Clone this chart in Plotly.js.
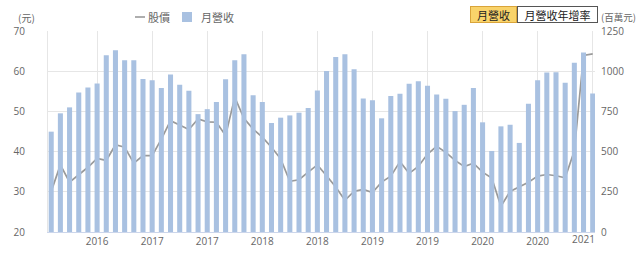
<!DOCTYPE html>
<html>
<head>
<meta charset="utf-8">
<script src="https://cdn.plot.ly/plotly-3.0.1.min.js"></script>
<style>
html,body{margin:0;padding:0;background:#fff;}
#chart{width:640px;height:261px;}
</style>
</head>
<body>
<div id="chart"></div>
<script>
// ---- data ----
const months = [
 "2016/02","2016/03","2016/04","2016/05","2016/06","2016/07","2016/08","2016/09","2016/10","2016/11","2016/12",
 "2017/01","2017/02","2017/03","2017/04","2017/05","2017/06","2017/07","2017/08","2017/09","2017/10","2017/11","2017/12",
 "2018/01","2018/02","2018/03","2018/04","2018/05","2018/06","2018/07","2018/08","2018/09","2018/10","2018/11","2018/12",
 "2019/01","2019/02","2019/03","2019/04","2019/05","2019/06","2019/07","2019/08","2019/09","2019/10","2019/11","2019/12",
 "2020/01","2020/02","2020/03","2020/04","2020/05","2020/06","2020/07","2020/08","2020/09","2020/10","2020/11","2020/12",
 "2021/01"
];
const revenue = [
 624,738,775,868,899,924,1099,1130,1068,1068,952,
 944,895,979,915,878,733,764,808,950,1068,1105,851,
 808,678,711,725,742,771,880,1002,1089,1105,1012,831,
 820,707,845,860,922,937,909,855,829,752,791,895,
 682,504,657,667,554,798,944,992,994,928,1052,1116,
 862
];
const price = [
 30.1,36.7,32.4,34.2,36.1,38.3,37.8,41.7,41.1,37.1,39.0,
 39.0,43.1,47.7,46.6,45.5,48.1,47.4,47.3,44.0,53.5,48.3,45.6,
 43.6,41.1,38.2,32.6,33.0,34.9,36.7,34.0,31.2,27.9,30.1,30.6,
 29.8,32.4,33.9,37.5,34.6,36.3,39.4,41.3,39.8,37.8,36.3,37.1,
 34.9,33.4,26.4,30.1,31.2,32.4,33.9,34.3,34.0,33.5,40.2,63.9,
 64.3
];
const tickMonths = ["2016/07","2017/01","2017/07","2018/01","2018/07","2019/01","2019/07","2020/01","2020/07","2021/01"];
const tickText   = ["2016","2017","2017","2018","2018","2019","2019","2020","2020","2021"];
const priceName = "股價";
const revName = "月營收";

// ---- layout helpers ----
const W = 640, H = 261;
const M = {l:48, r:45, t:31, b:29};
const pw = W - M.l - M.r, ph = H - M.t - M.b;
const px = x => (x - M.l) / pw;
const py = y => (H - M.b - y) / ph;

const FONT = '"Open Sans", "Noto Sans CJK TC", sans-serif';
const CJK = '"Noto Sans CJK TC", "Open Sans", sans-serif';

// the last tick label is drawn pushed left to stay inside the plot (as in the reference)
const lastIdx = tickText.length - 1;
const tickLabels = tickText.map((t, i) => i === lastIdx ? '' : t);

const traces = [
  {
    type: 'bar', name: revName, x: months, y: revenue, yaxis: 'y2',
    marker: {color: '#a9c1e1'}, hoverinfo: 'x+y'
  },
  {
    type: 'scatter', mode: 'lines', name: priceName, x: months, y: price, yaxis: 'y',
    line: {color: '#9a9a9a', width: 1.7}, hoverinfo: 'x+y'
  }
];

const layout = {
  width: W, height: H,
  margin: M,
  paper_bgcolor: '#fff', plot_bgcolor: '#fff',
  showlegend: false,
  bargap: 0.45,
  font: {family: FONT, size: 10, color: '#666'},
  xaxis: {
    type: 'category', categoryorder: 'array', categoryarray: months,
    range: [-0.35, 59.25],
    tickmode: 'array', tickvals: tickMonths, ticktext: tickLabels,
    showgrid: true, gridcolor: '#e6e6e6', gridwidth: 1,
    showline: true, linecolor: '#ccd6eb', linewidth: 1,
    ticks: '', zeroline: false,
    tickfont: {family: FONT, size: 10, color: '#666'},
    fixedrange: true
  },
  yaxis: {
    range: [20, 70], dtick: 10, tick0: 20,
    showgrid: true, gridcolor: '#e6e6e6', gridwidth: 1,
    showline: true, linecolor: '#e6e6e6', linewidth: 1,
    zeroline: false, ticks: '', ticklabelstandoff: 20,
    tickfont: {family: FONT, size: 10, color: '#666'},
    fixedrange: true
  },
  yaxis2: {
    overlaying: 'y', side: 'right', anchor: 'x',
    range: [0, 1250], dtick: 250, tick0: 0,
    showgrid: false, showline: false, zeroline: false, ticks: '',
    ticklabelstandoff: 5,
    tickfont: {family: FONT, size: 10, color: '#666'},
    fixedrange: true
  },
  shapes: [
    // legend symbols
    {type: 'line', xref: 'paper', yref: 'paper', x0: px(135), x1: px(145), y0: py(17), y1: py(17),
     line: {color: '#9a9a9a', width: 1.6}},
    {type: 'rect', xref: 'paper', yref: 'paper', x0: px(182), x1: px(192), y0: py(22), y1: py(12),
     fillcolor: '#a9c1e1', line: {width: 0}}
  ],
  annotations: [
    // last x tick label, shifted left inside the plot
    {xref: 'x', yref: 'paper', x: tickMonths[lastIdx], y: 0, xanchor: 'center', yanchor: 'top',
     xshift: -9, yshift: 2, text: tickText[lastIdx], showarrow: false,
     font: {family: FONT, size: 10, color: '#666'}},
    {xref: 'paper', yref: 'paper', x: px(16), y: py(17.5), xanchor: 'left', yanchor: 'middle',
     text: '(元)', showarrow: false, font: {family: CJK, size: 10, color: '#666'}},
    {xref: 'paper', yref: 'paper', x: px(599), y: py(16.5), xanchor: 'left', yanchor: 'middle',
     text: '(百萬元)', showarrow: false, font: {family: CJK, size: 9.5, color: '#666'}},
    {xref: 'paper', yref: 'paper', x: px(146), y: py(17), xanchor: 'left', yanchor: 'middle',
     text: priceName, showarrow: false, font: {family: CJK, size: 11, color: '#666'}},
    {xref: 'paper', yref: 'paper', x: px(199), y: py(17), xanchor: 'left', yanchor: 'middle',
     text: revName, showarrow: false, font: {family: CJK, size: 11, color: '#666'}},
    // buttons
    {xref: 'paper', yref: 'paper', x: px(493.5), y: py(14.5), xanchor: 'center', yanchor: 'middle',
     text: '月營收', showarrow: false, width: 45, height: 15, borderpad: 0, borderwidth: 1,
     bgcolor: '#f9d36a', bordercolor: '#d9a43a', font: {family: CJK, size: 11, color: '#222'}},
    {xref: 'paper', yref: 'paper', x: px(557.5), y: py(14.5), xanchor: 'center', yanchor: 'middle',
     text: '月營收年增率', showarrow: false, width: 79, height: 15, borderpad: 0, borderwidth: 1,
     bgcolor: '#ffffff', bordercolor: '#555', font: {family: CJK, size: 11, color: '#222'}}
  ]
};

Plotly.newPlot('chart', traces, layout, {displayModeBar: false, staticPlot: true});
</script>
</body>
</html>
